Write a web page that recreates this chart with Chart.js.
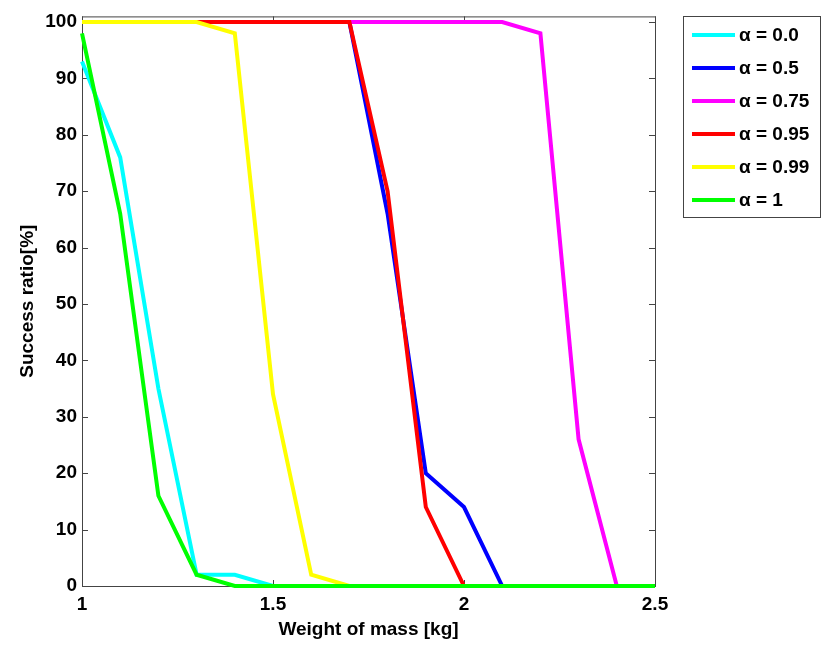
<!DOCTYPE html>
<html>
<head>
<meta charset="utf-8">
<title>Success ratio vs weight of mass</title>
<script src="https://cdn.jsdelivr.net/npm/chart.js@4.4.1/dist/chart.umd.min.js"></script>
<style>
    html, body { margin: 0; padding: 0; background: #fff; }
    #wrap { width: 823px; height: 645px; position: relative; }
</style>
</head>
<body>
<div id="wrap"><canvas id="chart"></canvas></div>
<script>
// masses on the x axis [kg]
const masses = [1.0, 1.1, 1.2, 1.3, 1.4, 1.5, 1.6, 1.7, 1.8, 1.9, 2.0, 2.1, 2.2, 2.3, 2.4, 2.5];

// success ratio [%] for each alpha
const alpha00  = [93, 76, 35, 2, 2, 0, 0, 0, 0, 0, 0, 0, 0, 0, 0, 0];
const alpha05  = [100, 100, 100, 100, 100, 100, 100, 100, 66, 20, 14, 0, 0, 0, 0, 0];
const alpha075 = [100, 100, 100, 100, 100, 100, 100, 100, 100, 100, 100, 100, 98, 26, 0, 0];
const alpha095 = [100, 100, 100, 100, 100, 100, 100, 100, 70, 14, 0, 0, 0, 0, 0, 0];
const alpha099 = [100, 100, 100, 100, 98, 34, 2, 0, 0, 0, 0, 0, 0, 0, 0, 0];
const alpha1   = [98, 66, 16, 2, 0, 0, 0, 0, 0, 0, 0, 0, 0, 0, 0, 0];

const seriesLabels = ['\u03b1 = 0.0', '\u03b1 = 0.5', '\u03b1 = 0.75', '\u03b1 = 0.95', '\u03b1 = 0.99', '\u03b1 = 1'];
const seriesColors = ['#00ffff', '#0000ff', '#ff00ff', '#ff0000', '#ffff00', '#00ff00'];
const seriesValues = [alpha00, alpha05, alpha075, alpha095, alpha099, alpha1];

const yTicks = [0, 10, 20, 30, 40, 50, 60, 70, 80, 90, 100];
const xTicks = [1, 1.5, 2, 2.5];

const FONT = '"Liberation Sans", Arial, sans-serif';
const AXIS_COLOR = '#444';

// axes box with inward ticks on all four sides (matlab style)
const boxPlugin = {
    id: 'boxPlugin',
    beforeDatasetsDraw(chart) {
        const { ctx, chartArea: a, scales } = chart;
        ctx.save();
        ctx.strokeStyle = AXIS_COLOR;
        ctx.lineWidth = 1;
        ctx.strokeRect(a.left + 0.5, a.top + 0.5, a.right - a.left, a.bottom - a.top);
        ctx.beginPath();
        yTicks.forEach(v => {
            const y = Math.round(scales.y.getPixelForValue(v)) + 0.5;
            ctx.moveTo(a.left, y); ctx.lineTo(a.left + 6, y);
            ctx.moveTo(a.right, y); ctx.lineTo(a.right - 6, y);
        });
        xTicks.forEach(v => {
            const x = Math.round(scales.x.getPixelForValue(v)) + 0.5;
            ctx.moveTo(x, a.bottom); ctx.lineTo(x, a.bottom - 6);
            ctx.moveTo(x, a.top); ctx.lineTo(x, a.top + 6);
        });
        ctx.stroke();
        ctx.restore();
    }
};

// legend box at the right, outside the axes
const legendPlugin = {
    id: 'legendPlugin',
    afterDraw(chart) {
        const ctx = chart.ctx;
        const left = 683, top = 16, width = 137, height = 201;
        ctx.save();
        ctx.fillStyle = '#fff';
        ctx.fillRect(left, top, width, height);
        ctx.strokeStyle = AXIS_COLOR;
        ctx.lineWidth = 1;
        ctx.strokeRect(left + 0.5, top + 0.5, width, height);
        ctx.font = 'bold 19px ' + FONT;
        ctx.textBaseline = 'middle';
        ctx.fillStyle = '#000';
        seriesLabels.forEach((label, i) => {
            const y = 35 + i * 33;
            ctx.strokeStyle = seriesColors[i];
            ctx.lineWidth = 4;
            ctx.beginPath();
            ctx.moveTo(692, y); ctx.lineTo(735, y);
            ctx.stroke();
            ctx.fillText(label, 739, y + 1);
        });
        ctx.restore();
    }
};

const ctx = document.getElementById('chart').getContext('2d');
new Chart(ctx, {
    type: 'line',
    data: {
        datasets: seriesValues.map((vals, i) => ({
            label: seriesLabels[i],
            data: masses.map((m, j) => ({ x: m, y: vals[j] })),
            borderColor: seriesColors[i],
            backgroundColor: seriesColors[i],
            borderWidth: 4,
            pointRadius: 0,
            tension: 0,
            clip: 5,
            order: seriesValues.length - i   // later series drawn on top
        }))
    },
    options: {
        responsive: true,
        maintainAspectRatio: false,
        animation: false,
        layout: { padding: { left: 0, right: 168, top: 13, bottom: 0 } },
        plugins: {
            legend: { display: false },
            tooltip: { enabled: false }
        },
        scales: {
            x: {
                type: 'linear',
                min: 1,
                max: 2.5,
                afterBuildTicks: s => { s.ticks = xTicks.map(v => ({ value: v })); },
                afterFit: s => { s.height = 59; },
                grid: { display: false, drawTicks: false },
                border: { display: false },
                ticks: {
                    color: '#000',
                    padding: 7,
                    maxRotation: 0,
                    font: { family: FONT, size: 19, weight: 'bold' },
                    callback: v => String(v)
                },
                title: {
                    display: true,
                    text: 'Weight of mass [kg]',
                    color: '#000',
                    padding: { top: 0, bottom: 4 },
                    font: { family: FONT, size: 19, weight: 'bold' }
                }
            },
            y: {
                min: 0,
                max: 101,
                afterBuildTicks: s => { s.ticks = yTicks.map(v => ({ value: v })); },
                afterFit: s => { s.width = 82; },
                grid: { display: false, drawTicks: false },
                border: { display: false },
                ticks: {
                    color: '#000',
                    padding: 5,
                    font: { family: FONT, size: 19, weight: 'bold' }
                },
                title: {
                    display: true,
                    text: 'Success ratio[%]',
                    color: '#000',
                    padding: { top: 16, bottom: 0 },
                    font: { family: FONT, size: 19, weight: 'bold' }
                }
            }
        }
    },
    plugins: [boxPlugin, legendPlugin]
});
</script>
</body>
</html>
